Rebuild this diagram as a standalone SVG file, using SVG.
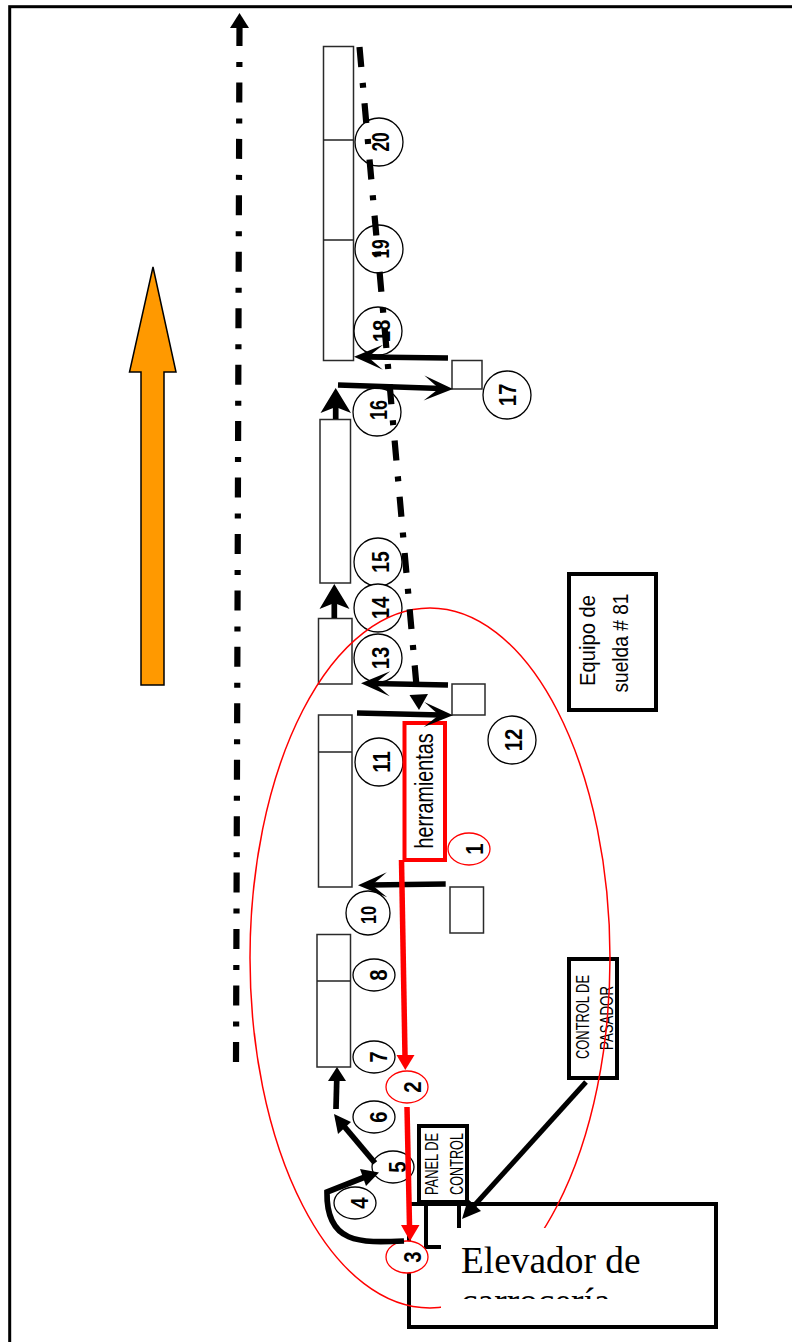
<svg xmlns="http://www.w3.org/2000/svg" width="792" height="1342" viewBox="0 0 792 1342">
<style>
text{font-family:"Liberation Sans",Arial,sans-serif;fill:#000}
.st{fill:#fff;stroke:#2a2a2a;stroke-width:1.5}
.dv{fill:none;stroke:#222;stroke-width:1.3}
.c{fill:#fff;stroke:#000;stroke-width:1.3}
.r{fill:#fff;stroke:#f00;stroke-width:1.3}
.n{font-weight:bold;font-size:24px;text-anchor:middle}
.l{text-anchor:middle}
.bx{fill:#fff;stroke:#000;stroke-width:4}
.ln{fill:none;stroke:#000;stroke-width:5.7}
.dd{fill:none;stroke:#000;stroke-width:6.2;stroke-dasharray:20 16 5 15.44}
.rl{fill:none;stroke:#f00;stroke-width:5.5}
.h{fill:#000;stroke:none}
.rh{fill:#f00;stroke:none}
</style>
<defs>
<marker id="s" markerUnits="userSpaceOnUse" viewBox="-20 -15 35 30" markerWidth="35" markerHeight="30" refX="0" refY="0" orient="auto" overflow="visible"><path d="M12,0 L-17,-12.500 L-2,0 L-17,12.500Z" fill="#000"/></marker>
<clipPath id="ec"><rect x="441" y="1228" width="230" height="71"/></clipPath>
</defs>
<rect id="border" x="9.7" y="6.7" width="800" height="1360" fill="none" stroke="#000" stroke-width="3"/>
<g id="big-arrow"><path d="M153,267 L176,372 H164 V685 H141 V372 H129.500 Z" fill="#f90" stroke="#000" stroke-width="1.500" stroke-linejoin="miter"/></g>

<g id="stations">
<g id="st-a"><rect class="st" x="323.500" y="46.500" width="30" height="314"/><path class="dv" d="M323.500,140H353.500M323.500,240H353.500"/></g>
<g id="st-b"><rect class="st" x="320" y="419.500" width="30.500" height="163.500"/></g>
<g id="st-c"><rect class="st" x="318.500" y="618.500" width="33.500" height="65.500"/></g>
<g id="st-d"><rect class="st" x="318.500" y="715" width="33.500" height="172"/><path class="dv" d="M318.500,752H352"/></g>
<g id="st-e"><rect class="st" x="317" y="934.500" width="33.500" height="132.500"/><path class="dv" d="M317,981H350.500"/></g>
<g id="sq-17"><rect class="st" x="452" y="360.500" width="30" height="28.500"/></g>
<g id="sq-12"><rect class="st" x="452" y="684" width="33" height="31"/></g>
<g id="sq-10"><rect class="st" x="450" y="887" width="33.500" height="46"/></g>
</g>

<g id="elevador"><rect class="bx" x="409" y="1204" width="307" height="123"/><rect class="bx" x="426" y="1204" width="33" height="43" fill="none"/></g>

<g id="n20"><circle class="c" cx="379" cy="142" r="24"/><text class="n" transform="translate(380 142) rotate(-90) scale(.72 1)" y="8.500">20</text></g>
<g id="n19"><circle class="c" cx="379" cy="249" r="24"/><text class="n" transform="translate(380 249) rotate(-90) scale(.72 1)" y="8.500">19</text></g>
<g id="n18"><circle class="c" cx="378" cy="331" r="24"/><text class="n" transform="translate(381 331) rotate(-90) scale(.85 1)" y="8.500">18</text></g>
<g id="n17"><circle class="c" cx="507" cy="395" r="24"/><text class="n" transform="translate(507 395) rotate(-90) scale(.85 1)" y="8.500">17</text></g>
<g id="n16"><circle class="c" cx="377" cy="412" r="24"/><text class="n" transform="translate(378 410) rotate(-90) scale(.75 1)" y="8.500">16</text></g>
<g id="n15"><circle class="c" cx="378" cy="562" r="24"/><text class="n" transform="translate(380 562) rotate(-90) scale(.8 1)" y="8.500">15</text></g>
<g id="n14"><circle class="c" cx="378" cy="608" r="24"/><text class="n" transform="translate(380 608) rotate(-90) scale(.85 1)" y="8.500">14</text></g>
<g id="n13"><circle class="c" cx="378" cy="658" r="24"/><text class="n" transform="translate(380 658) rotate(-90) scale(.85 1)" y="8.500">13</text></g>
<g id="n12"><circle class="c" cx="512" cy="740" r="24"/><text class="n" transform="translate(513 740) rotate(-90) scale(.85 1)" y="8.500">12</text></g>
<g id="n11"><circle class="c" cx="379" cy="762" r="24"/><text class="n" transform="translate(381 762) rotate(-90) scale(.85 1)" y="8.500">11</text></g>
<g id="n10"><circle class="c" cx="368" cy="913" r="22"/><text class="n" style="font-size:22px" transform="translate(368 915) rotate(-90) scale(.74 1)" y="8">10</text></g>
<g id="n1"><ellipse class="r" cx="469" cy="849" rx="21" ry="16"/><text class="n" transform="translate(474 849) rotate(-90) scale(.85 1)" y="8.500">1</text></g>
<g id="n8"><ellipse class="c" cx="374" cy="975" rx="21" ry="16"/><text class="n" transform="translate(378 975) rotate(-90) scale(.85 1)" y="8.500">8</text></g>
<g id="n7"><ellipse class="c" cx="374" cy="1057" rx="21" ry="16"/><text class="n" transform="translate(378 1057) rotate(-90) scale(.85 1)" y="8.500">7</text></g>
<g id="n2"><ellipse class="r" cx="407" cy="1087" rx="21" ry="16"/><text class="n" transform="translate(412 1087) rotate(-90) scale(.85 1)" y="8.500">2</text></g>
<g id="n6"><ellipse class="c" cx="374" cy="1117" rx="21" ry="16"/><text class="n" transform="translate(378 1117) rotate(-90) scale(.85 1)" y="8.500">6</text></g>
<g id="n5"><ellipse class="c" cx="393" cy="1167" rx="21" ry="16"/><text class="n" transform="translate(397 1167) rotate(-90) scale(.85 1)" y="8.500">5</text></g>
<g id="n4"><ellipse class="c" cx="355" cy="1203" rx="21" ry="16"/><text class="n" transform="translate(359 1203) rotate(-90) scale(.85 1)" y="8.500">4</text></g>
<g id="n3"><ellipse class="r" cx="407" cy="1257" rx="21" ry="16"/><text class="n" transform="translate(412 1257) rotate(-90) scale(.85 1)" y="8.500">3</text></g>

<g id="herramientas"><rect x="404.500" y="723" width="40.500" height="137" fill="#fff" stroke="#f00" stroke-width="4"/><text class="l" font-size="26" textLength="115" lengthAdjust="spacingAndGlyphs" transform="translate(433 791) rotate(-90)">herramientas</text></g>
<g id="equipo"><rect class="bx" x="569" y="574" width="87" height="136"/><text class="l" font-size="22" textLength="91" lengthAdjust="spacingAndGlyphs" transform="translate(595 640.500) rotate(-90)">Equipo de</text><text class="l" font-size="22" textLength="99" lengthAdjust="spacingAndGlyphs" transform="translate(628 643) rotate(-90)">suelda # 81</text></g>
<g id="control-pasador"><rect class="bx" x="569" y="959" width="48" height="119"/><text class="l" font-size="18" textLength="84" lengthAdjust="spacingAndGlyphs" transform="translate(589 1017) rotate(-90)">CONTROL DE</text><text class="l" font-size="18" textLength="64" lengthAdjust="spacingAndGlyphs" transform="translate(612.500 1018) rotate(-90)">PASADOR</text></g>
<g id="panel"><rect class="bx" x="419" y="1126" width="48" height="76"/><text class="l" font-size="18" textLength="62" lengthAdjust="spacingAndGlyphs" transform="translate(438 1164) rotate(-90)">PANEL DE</text><text class="l" font-size="18" textLength="62" lengthAdjust="spacingAndGlyphs" transform="translate(463 1164) rotate(-90)">CONTROL</text></g>

<g id="zone"><ellipse cx="430" cy="958" rx="180" ry="350" fill="none" stroke="#f00" stroke-width="1.500"/></g>

<g id="connectors">
<path class="dd" d="M239.500,26 L236,1062"/>
<path class="h" d="M239.500,13 L249,28 H230Z"/>
<path class="dd" d="M359.500,47 L417.500,697"/>
<path class="h" d="M419,710 L409.500,695 L428,694Z"/>
<path class="ln" marker-end="url(#s)" d="M445.700,884 L370,885"/>
<path class="ln" marker-end="url(#s)" d="M448,685 L373,683.500"/>
<path class="ln" marker-end="url(#s)" d="M357,713 L441,715"/>
<path class="ln" marker-end="url(#s)" d="M448,358 L366,357"/>
<path class="ln" marker-end="url(#s)" d="M338,385 L441,388.500"/>
<path class="ln" d="M335.700,419 V405"/><path class="h" d="M335.700,388 L351,413 L335.700,407 L320.500,413Z"/>
<path class="ln" d="M334.300,618 V600"/><path class="h" d="M334.300,584 L349.500,609 L334.300,603 L319.500,609Z"/>
<path class="ln" d="M336,1109 L336.800,1078"/><path class="h" d="M337,1067 L346,1081 H328Z"/>
<path class="ln" d="M375,1163 L343,1125"/><path class="h" d="M334,1114 L351,1122 L338,1134Z"/>
<path class="ln" d="M404,1241 C360,1243 326,1244 327,1192 L365,1177"/><path class="h" d="M379,1172.500 L366,1186 L360,1169Z"/>
<path fill="none" stroke="#000" stroke-width="5" d="M586,1082 L472,1208"/><path class="h" d="M462,1219 L468,1199 L481,1211Z"/>
<path class="rl" d="M401.500,860 L405,1056"/><path class="rh" d="M405.300,1070 L396.500,1055 H414.500Z"/>
<path class="rl" d="M407,1107 L409.500,1226"/><path class="rh" d="M410,1241 L401,1225 H419.500Z"/>
</g>

<g id="elevador-label"><rect x="441" y="1228" width="230" height="82" fill="#fff"/><g clip-path="url(#ec)"><text x="461" y="1273" font-size="37.400" style="font-family:'Liberation Serif','Times New Roman',serif">Elevador de</text><text x="461" y="1314" font-size="37.400" style="font-family:'Liberation Serif','Times New Roman',serif">carrocería</text></g></g>
</svg>
